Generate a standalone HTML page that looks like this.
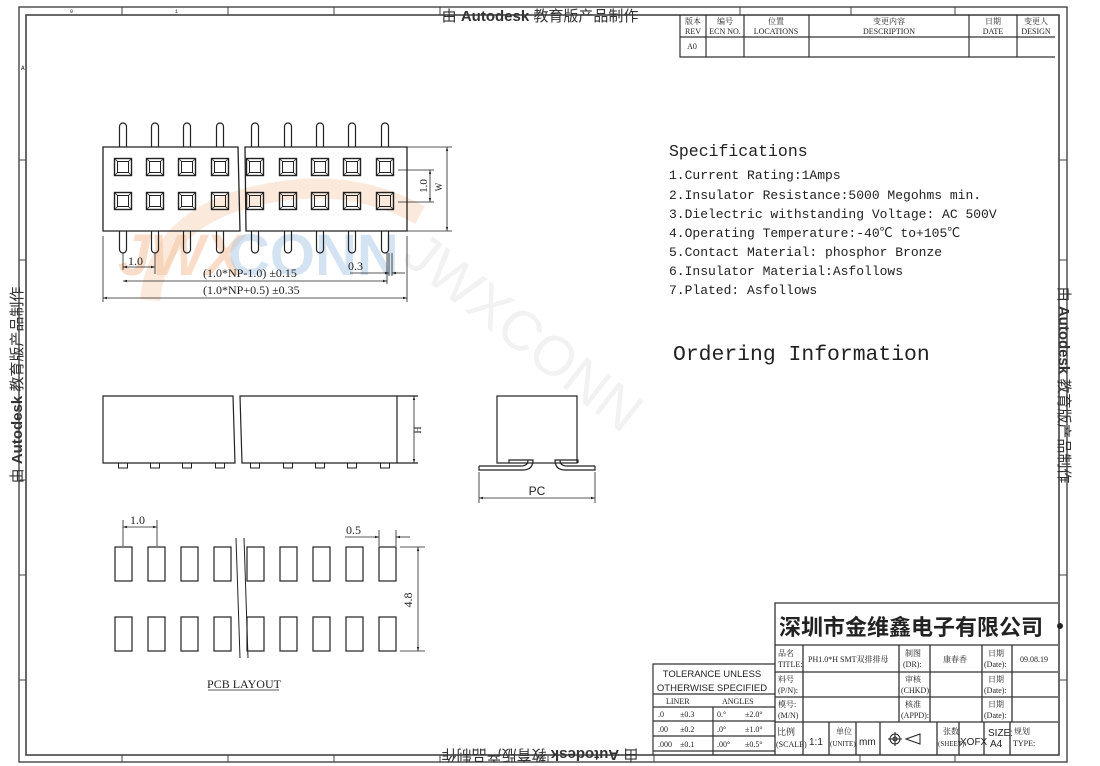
<!DOCTYPE html>
<html><head><meta charset="utf-8"><style>
html,body{margin:0;padding:0;background:#fff;}
svg{display:block}
text{font-family:"Liberation Mono","Noto Sans CJK SC",monospace;fill:#222}
.s{font-family:"Liberation Serif","Noto Serif CJK SC",serif}
.a{font-family:"Liberation Sans","Noto Sans CJK SC",sans-serif}
</style></head><body>
<svg width="1100" height="766" viewBox="0 0 1100 766" xmlns="http://www.w3.org/2000/svg">
<defs>
<marker id="ar" viewBox="0 0 10 10" refX="10" refY="5" markerWidth="7" markerHeight="5" orient="auto-start-reverse"><path d="M0,2 L10,5 L0,8z" fill="#222"/></marker>
<g id="sq"><rect x="-8.5" y="-8.5" width="17" height="17" fill="none" stroke="#222" stroke-width="1.4"/><rect x="-5.5" y="-5.5" width="11" height="11" fill="none" stroke="#222" stroke-width="1"/><path d="M-8.5,-8.5L-5.5,-5.5M8.5,-8.5L5.5,-5.5M-8.5,8.5L-5.5,5.5M8.5,8.5L5.5,5.5" stroke="#222" stroke-width=".8"/></g>
<path id="pt" d="M-3.5,24 L-3.5,3.5 A3.5,3.5 0 0 1 3.5,3.5 L3.5,24" fill="none" stroke="#222" stroke-width="1.2"/>
<path id="pb" d="M-3.5,0 L-3.5,18.5 A3.5,3.5 0 0 0 3.5,18.5 L3.5,0" fill="none" stroke="#222" stroke-width="1.2"/>
<rect id="ft" x="-4.5" y="0" width="9" height="5" fill="none" stroke="#222" stroke-width="1"/>
<g id="pd"><rect x="0" y="0" width="17" height="34" fill="none" stroke="#222" stroke-width="1.2"/></g>
</defs>

<!-- watermark -->
<path d="M150,300 Q160,205 290,190 Q360,182 420,215" fill="none" stroke="#f9dcc4" stroke-width="20" opacity=".6"/>
<text x="118" y="275" style="font-family:'Liberation Sans',sans-serif;font-weight:bold;font-style:italic;font-size:58px;fill:#f6c8a4;opacity:.6">JWX</text>
<text x="228" y="275" style="font-family:'Liberation Sans',sans-serif;font-weight:bold;font-size:58px;fill:#b9d1ea;opacity:.6">CONN</text>
<text x="400" y="260" transform="rotate(38 400 260)" style="font-family:'Liberation Sans',sans-serif;font-size:56px;fill:#f2f2f2">JWXCONN</text>

<!-- frame -->
<g fill="none" stroke="#444">
<rect x="19" y="7" width="1048" height="755" stroke-width="1.4"/>
<rect x="26" y="15" width="1033" height="740" stroke-width="1.6"/>
<path d="M122,7V15M228,7V15M334,7V15M440,7V15M740,7V15M851,7V15M955,7V15M122,755V762M228,755V762M334,755V762M440,755V762M548,755V762M654,755V762M860,755V762M955,755V762M19,160H26M19,260H26M19,480H26M19,575H26M19,680H26M1059,160H1067M1059,260H1067M1059,480H1067M1059,575H1067M1059,680H1067" stroke-width="1"/>
</g>
<text x="70" y="13" font-size="5">0</text><text x="175" y="13" font-size="5">1</text>
<text x="21" y="70" font-size="6">A</text>

<!-- autodesk watermarks -->
<text class="a" x="540" y="21" text-anchor="middle" font-size="15" style="fill:#333"><tspan>由 </tspan><tspan font-weight="bold">Autodesk</tspan><tspan> 教育版产品制作</tspan></text>
<text class="a" x="540" y="742" text-anchor="middle" font-size="15" transform="rotate(180 540 746)" style="fill:#333"><tspan>由 </tspan><tspan font-weight="bold">Autodesk</tspan><tspan> 教育版产品制作</tspan></text>
<text class="a" x="17" y="385" text-anchor="middle" font-size="15" transform="rotate(-90 17 385)" style="fill:#333" dy="5"><tspan>由 </tspan><tspan font-weight="bold">Autodesk</tspan><tspan> 教育版产品制作</tspan></text>
<text class="a" x="1064" y="385" text-anchor="middle" font-size="15" transform="rotate(90 1064 385)" style="fill:#333" dy="5"><tspan>由 </tspan><tspan font-weight="bold">Autodesk</tspan><tspan> 教育版产品制作</tspan></text>

<!-- top view -->
<g fill="none" stroke="#222" stroke-width="1.3">
<path d="M103,147H238L240,231H103Z"/><path d="M245,147H407V231H246Z"/>
</g>
<use href="#pt" x="123" y="123"/><use href="#pt" x="155" y="123"/><use href="#pt" x="187" y="123"/><use href="#pt" x="220" y="123"/><use href="#pt" x="255" y="123"/><use href="#pt" x="288" y="123"/><use href="#pt" x="320" y="123"/><use href="#pt" x="352" y="123"/><use href="#pt" x="385" y="123"/>
<use href="#pb" x="123" y="231"/><use href="#pb" x="155" y="231"/><use href="#pb" x="187" y="231"/><use href="#pb" x="220" y="231"/><use href="#pb" x="255" y="231"/><use href="#pb" x="288" y="231"/><use href="#pb" x="320" y="231"/><use href="#pb" x="352" y="231"/><use href="#pb" x="385" y="231"/>
<use href="#sq" x="123" y="167"/><use href="#sq" x="155" y="167"/><use href="#sq" x="187" y="167"/><use href="#sq" x="220" y="167"/><use href="#sq" x="255" y="167"/><use href="#sq" x="288" y="167"/><use href="#sq" x="320" y="167"/><use href="#sq" x="352" y="167"/><use href="#sq" x="385" y="167"/>
<use href="#sq" x="123" y="201"/><use href="#sq" x="155" y="201"/><use href="#sq" x="187" y="201"/><use href="#sq" x="220" y="201"/><use href="#sq" x="255" y="201"/><use href="#sq" x="288" y="201"/><use href="#sq" x="320" y="201"/><use href="#sq" x="352" y="201"/><use href="#sq" x="385" y="201"/>
<g stroke="#222" stroke-width=".8" fill="none">
<path d="M123,253V270M155,253V274M103,236V302M407,236V302M387,253V284M389,253V276M392,253V276"/>
<path d="M123,267H155" marker-start="url(#ar)" marker-end="url(#ar)"/>
<path d="M123,281H387" marker-start="url(#ar)" marker-end="url(#ar)"/>
<path d="M103,298H407" marker-start="url(#ar)" marker-end="url(#ar)"/>
<path d="M350,273H389" marker-end="url(#ar)"/><path d="M405,273H392" marker-end="url(#ar)"/>
<path d="M407,147H452M407,231H452M398,170H434M398,202H434"/>
<path d="M447,147V231" marker-start="url(#ar)" marker-end="url(#ar)"/>
<path d="M430,170V202" marker-start="url(#ar)" marker-end="url(#ar)"/>
</g>
<text class="s" x="128" y="265" font-size="12">1.0</text>
<text class="s" x="203" y="277" font-size="12">(1.0*NP-1.0) ±0.15</text>
<text class="s" x="203" y="294" font-size="12">(1.0*NP+0.5) ±0.35</text>
<text class="s" x="348" y="270" font-size="12">0.3</text>
<text class="s" x="427" y="186" font-size="11" text-anchor="middle" transform="rotate(-90 427 186)">1.0</text>
<text class="s" x="442" y="187" font-size="9" text-anchor="middle" transform="rotate(-90 442 187)">W</text>

<!-- side view -->
<g fill="none" stroke="#222" stroke-width="1.2">
<path d="M103,396H233L235,463H103Z"/><path d="M240,396H397V463H242Z"/>
<path d="M397,396H418M397,463H418"/>
</g>
<path d="M414,396V463" stroke="#222" stroke-width=".8" marker-start="url(#ar)" marker-end="url(#ar)"/>
<text class="s" x="421" y="430" font-size="10" text-anchor="middle" transform="rotate(-90 421 430)">H</text>
<use href="#ft" x="123" y="463"/><use href="#ft" x="155" y="463"/><use href="#ft" x="187" y="463"/><use href="#ft" x="220" y="463"/><use href="#ft" x="255" y="463"/><use href="#ft" x="288" y="463"/><use href="#ft" x="320" y="463"/><use href="#ft" x="352" y="463"/><use href="#ft" x="385" y="463"/>

<!-- end view -->
<g fill="none" stroke="#222" stroke-width="1.2">
<rect x="497" y="396" width="80" height="67"/>
<path d="M479,466H521Q528,466 528,460H509V463M479,466V470H523Q533,470 533,460H528"/>
<path d="M595,466H567Q560,466 560,460H578V463M595,466V470H565Q555,470 555,460H560"/>
</g>
<g stroke="#222" stroke-width=".8" fill="none">
<path d="M479,472V503M595,472V503"/>
<path d="M479,498H595" marker-start="url(#ar)" marker-end="url(#ar)"/>
</g>
<text class="a" x="537" y="495" font-size="12" text-anchor="middle">PC</text>

<!-- PCB layout -->
<g>
<use href="#pd" x="115" y="547"/><use href="#pd" x="148" y="547"/><use href="#pd" x="181" y="547"/><use href="#pd" x="214" y="547"/><use href="#pd" x="247" y="547"/><use href="#pd" x="280" y="547"/><use href="#pd" x="313" y="547"/><use href="#pd" x="346" y="547"/><use href="#pd" x="379" y="547"/>
<use href="#pd" x="115" y="617"/><use href="#pd" x="148" y="617"/><use href="#pd" x="181" y="617"/><use href="#pd" x="214" y="617"/><use href="#pd" x="247" y="617"/><use href="#pd" x="280" y="617"/><use href="#pd" x="313" y="617"/><use href="#pd" x="346" y="617"/><use href="#pd" x="379" y="617"/>
</g>
<g stroke="#222" stroke-width="1" fill="none">
<path d="M236,538L240,658M244,538L248,658"/>
</g>
<g stroke="#222" stroke-width=".8" fill="none">
<path d="M123,520V546M157,520V546M379,530V546M396,530V546M400,547H425M400,651H425"/>
<path d="M123,527H157" marker-start="url(#ar)" marker-end="url(#ar)"/>
<path d="M345,537H379" marker-end="url(#ar)"/><path d="M410,537H396" marker-end="url(#ar)"/>
<path d="M418,547V651" marker-start="url(#ar)" marker-end="url(#ar)"/>
</g>
<text class="s" x="130" y="524" font-size="12">1.0</text>
<text class="s" x="346" y="534" font-size="12">0.5</text>
<text class="s" x="412" y="600" font-size="12" text-anchor="middle" transform="rotate(-90 412 600)">4.8</text>
<text class="s" x="244" y="688" font-size="12" text-anchor="middle">PCB LAYOUT</text>
<path d="M208,690H279" stroke="#222" stroke-width=".8"/>

<!-- specifications -->
<text x="669" y="156" font-size="16.5">Specifications</text>
<g font-size="13">
<text x="669" y="179">1.Current Rating:1Amps</text>
<text x="669" y="199">2.Insulator Resistance:5000 Megohms min.</text>
<text x="669" y="218">3.Dielectric withstanding Voltage: AC 500V</text>
<text x="669" y="237">4.Operating Temperature:-40℃ to+105℃</text>
<text x="669" y="256">5.Contact Material: phosphor Bronze</text>
<text x="669" y="275">6.Insulator Material:Asfollows</text>
<text x="669" y="294">7.Plated: Asfollows</text>
</g>
<text x="673" y="360" font-size="21.4">Ordering Information</text>

<!-- revision table -->
<g fill="none" stroke="#333" stroke-width="1.2">
<path d="M680,15V57H1055M680,37H1055M706,15V57M744,15V57M809,15V57M969,15V57M1017,15V57"/>
</g>
<g class="s" font-size="8" text-anchor="middle">
<text class="s" x="693" y="24">版本</text><text class="s" x="693" y="34">REV</text>
<text class="s" x="725" y="24">编号</text><text class="s" x="725" y="34">ECN NO.</text>
<text class="s" x="776" y="24">位置</text><text class="s" x="776" y="34">LOCATIONS</text>
<text class="s" x="889" y="24">变更内容</text><text class="s" x="889" y="34">DESCRIPTION</text>
<text class="s" x="993" y="24">日期</text><text class="s" x="993" y="34">DATE</text>
<text class="s" x="1036" y="24">变更人</text><text class="s" x="1036" y="34">DESIGN</text>
<text class="s" x="692" y="49">A0</text>
</g>

<!-- tolerance block -->
<g fill="none" stroke="#333" stroke-width="1.2">
<path d="M653,755V664H775M653,694H775M653,707H775M653,721H775M653,736H775M653,751H775M713,707V755"/>
</g>
<text class="a" x="712" y="677" font-size="9.5" text-anchor="middle">TOLERANCE UNLESS</text>
<text class="a" x="712" y="691" font-size="9.5" text-anchor="middle">OTHERWISE SPECIFIED</text>
<g class="s" font-size="8">
<text class="s" x="666" y="704">LINER</text><text class="s" x="722" y="704">ANGLES</text>
<text class="s" x="658" y="717">.0</text><text class="s" x="680" y="717">±0.3</text><text class="s" x="717" y="717">0.°</text><text class="s" x="745" y="717">±2.0°</text>
<text class="s" x="658" y="732">.00</text><text class="s" x="680" y="732">±0.2</text><text class="s" x="717" y="732">.0°</text><text class="s" x="745" y="732">±1.0°</text>
<text class="s" x="658" y="747">.000</text><text class="s" x="680" y="747">±0.1</text><text class="s" x="717" y="747">.00°</text><text class="s" x="745" y="747">±0.5°</text>
</g>

<!-- title block -->
<g fill="none" stroke="#333" stroke-width="1.3">
<path d="M775,755V603H1058M775,645H1058M775,672H1058M775,697H1058M775,722H1058"/>
<path d="M803,645V755M899,645V722M930,645V722M982,645V722M1012,645V722"/>
<path d="M829,722V755M856,722V755M880,722V755M937,722V755M959,722V755M984,722V755M1010,722V755"/>
</g>
<text x="779" y="635" style="font-family:'Noto Sans CJK SC',sans-serif;font-weight:bold;font-size:22px;fill:#222">深圳市金维鑫电子有限公司</text>
<circle cx="1060" cy="626" r="3" fill="#222"/>
<g class="s" font-size="8">
<text class="s" x="778" y="656">品名</text><text class="s" x="778" y="667">TITLE:</text>
<text class="s" x="808" y="662">PH1.0*H SMT双排排母</text>
<text class="s" x="905" y="656">制图</text><text class="s" x="903" y="667">(DR):</text>
<text class="s" x="943" y="662">康春香</text>
<text class="s" x="988" y="656">日期</text><text class="s" x="984" y="667">(Date):</text>
<text class="s" x="1020" y="662">09.08.19</text>
<text class="s" x="778" y="682">料号</text><text class="s" x="778" y="693">(P/N):</text>
<text class="s" x="905" y="682">审核</text><text class="s" x="901" y="693">(CHKD):</text>
<text class="s" x="988" y="682">日期</text><text class="s" x="984" y="693">(Date):</text>
<text class="s" x="778" y="707">模号:</text><text class="s" x="778" y="718">(M/N)</text>
<text class="s" x="905" y="707">核准</text><text class="s" x="901" y="718">(APPD):</text>
<text class="s" x="988" y="707">日期</text><text class="s" x="984" y="718">(Date):</text>
<text class="s" x="777" y="735" font-size="9">比例</text><text class="s" x="776" y="747">(SCALE)</text>
<text class="s" x="836" y="734">单位</text><text class="s" x="830" y="746" font-size="7">(UNITE)</text>
<text class="s" x="943" y="734">张数</text><text class="s" x="938" y="746" font-size="7">(SHEET):</text>
<text class="s" x="1014" y="734">规划</text><text class="s" x="1013" y="746">TYPE:</text>
</g>
<g class="a" font-size="10">
<text class="a" x="809" y="745">1:1</text>
<text class="a" x="859" y="745">mm</text>
<text class="a" x="960" y="745">XOFX</text>
<text class="a" x="988" y="736">SIZE:</text><text class="a" x="990" y="747">A4</text>
</g>
<g fill="none" stroke="#222" stroke-width="1">
<circle cx="895" cy="739" r="5"/><circle cx="895" cy="739" r="2"/><path d="M888,739H902M895,732V746"/>
<path d="M906,739L920,734V744Z"/>
</g>
</svg>
</body></html>
